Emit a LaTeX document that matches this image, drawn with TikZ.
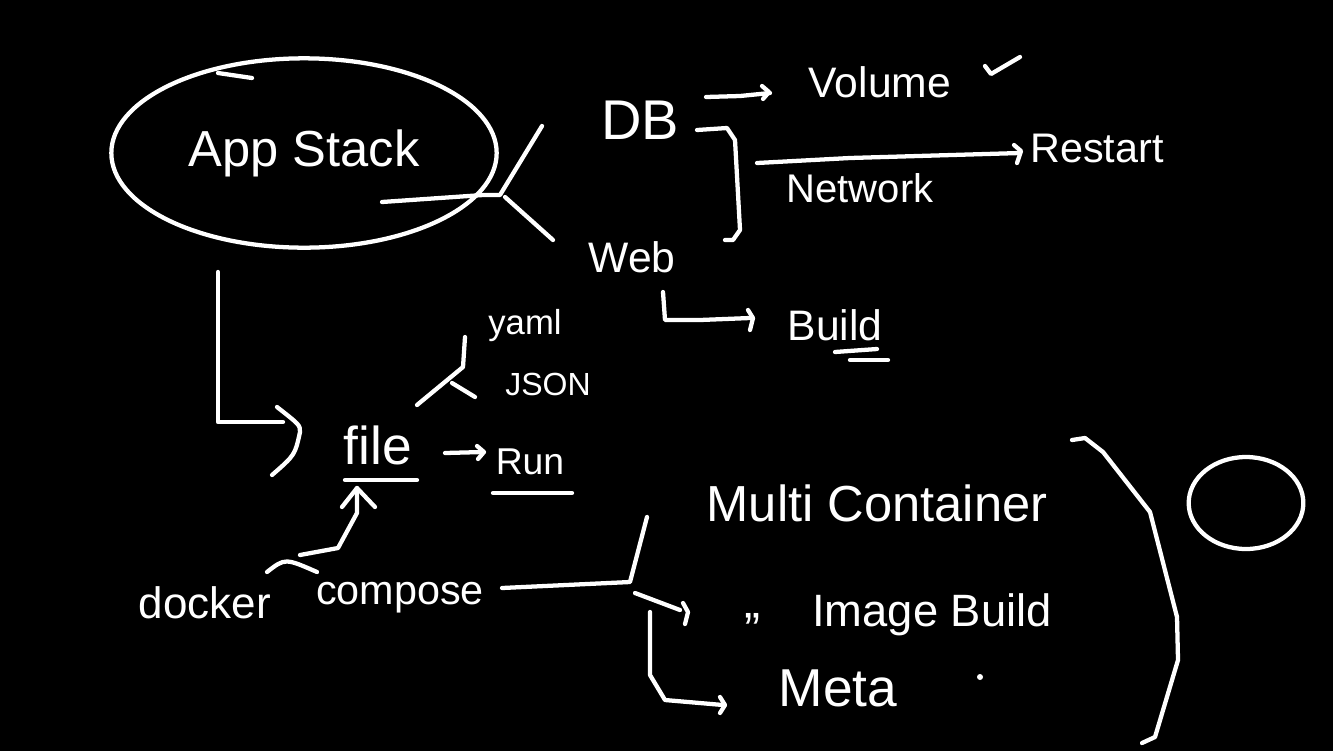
\documentclass[tikz,border=0pt]{standalone}
\usepackage{fontspec}
\setmainfont{Liberation Sans}
\usetikzlibrary{shapes.geometric}
\newcommand\hfs[1]{\fontsize{#1}{#1}\selectfont}
\begin{document}
\begin{tikzpicture}[x=0.75pt,y=-0.75pt,
  stroke/.style={draw=white,line width=3.2pt,line cap=round,line join=round},
  lbl/.style={text=white,inner sep=0pt,anchor=center}]
\fill[black] (0,0) rectangle (1333,751);
\useasboundingbox (0,0) rectangle (1333,751);

% App Stack
\node[stroke,ellipse,text=white,inner sep=0pt,minimum width=289pt,minimum height=142pt,font=\hfs{38pt}] (app) at (304,153) {App Stack};
\draw[stroke] (252,78) -- (218,73);

% fork from app stack
\coordinate (fk) at (500,195);
\draw[stroke] (382,202) -- (483,195) -- (fk) -- (542,126);
\draw[stroke] (505,197) -- (553,240);

% DB
\node[lbl,font=\hfs{42pt}] (db) at (640,120) {DB};
\node[lbl,font=\hfs{32pt}] (vol) at (880,82) {Volume};
\coordinate (volin) at (770,93);
\draw[stroke] (706,97) -- (740,96) -- (volin);
\draw[stroke] (762,86) -- (769,92) -- (763,99);
\draw[stroke] (985,66) -- (991,74) -- (1020,57);

% bracket
\draw[stroke] (697,130) -- (727,128) -- (735,140) -- (740,230) -- (733,240) -- (725,240);

% Network -> Restart
\node[lbl,font=\hfs{30pt}] (net) at (860,188) {Network};
\node[lbl,font=\hfs{31pt}] (rst) at (1097,148) {Restart};
\coordinate (rstin) at (1020,153);
\draw[stroke] (757,163) -- (850,158) -- (rstin);
\draw[stroke] (1014,145) -- (1021,151) -- (1017,163);

% Web -> Build
\node[lbl,font=\hfs{32pt}] (web) at (632,257) {Web};
\node[lbl,font=\hfs{32pt}] (bld) at (835,325) {Build};
\coordinate (bldin) at (750,318);
\draw[stroke] (663,292) -- (665,320) -- (700,320) -- (bldin);
\draw[stroke] (748,310) -- (753,318) -- (750,330);
\draw[stroke] (835,352) -- (877,349);
\draw[stroke] (850,360) -- (888,360);

% App Stack -> file
\node[lbl,font=\hfs{40pt}] (file) at (378,445) {file};
\coordinate (a1) at (218,272);
\draw[stroke] (a1) |- (283,422);
\draw[stroke] (277,407) .. controls (300,425) .. (300,432) .. controls (295,455) .. (272,475);
\draw[stroke] (345,480) -- (417,480);

% yaml / JSON
\node[lbl,font=\hfs{26pt}] (yaml) at (525,326) {yaml};
\node[lbl,font=\hfs{24pt}] (json) at (548,384) {JSON};
\draw[stroke] (417,405) -- (463,367) -- (465,337);
\draw[stroke] (452,383) -- (475,397);

% Run
\node[lbl,font=\hfs{28pt}] (run) at (530,462) {Run};
\coordinate (runin) at (483,452);
\draw[stroke] (445,453) -- (runin);
\draw[stroke] (477,446) -- (484,452) -- (478,459);
\draw[stroke] (493,493) -- (572,493);

% docker compose
\node[lbl,font=\hfs{33pt}] (dock) at (205,603) {docker};
\node[lbl,font=\hfs{31pt}] (comp) at (400,598) {compose};
\coordinate (filein) at (357,488);
\draw[stroke] (267,572) .. controls (285,558) .. (317,572);
\draw[stroke] (300,555) -- (338,548) -- (357,513) -- (filein);
\draw[stroke] (342,507) -- (filein) -- (375,507);

% compose -> branches
\coordinate (br) at (630,582);
\draw[stroke] (502,588) -- (br) -- (647,517);
\node[lbl,font=\hfs{38pt}] (multi) at (877,503) {Multi Container};
\draw[stroke] (635,593) -- (680,610);
\draw[stroke] (683,603) -- (688,612) -- (685,624);
\node[lbl,font=\hfs{36pt}] (ditto) at (752,630) {"};
\node[lbl,font=\hfs{34pt}] (img) at (932,615) {Image Build};
\draw[stroke] (650,612) -- (650,675) -- (665,700) -- (723,705);
\draw[stroke] (720,697) -- (725,705) -- (720,713);
\node[lbl,font=\hfs{40pt}] (meta) at (838,688) {Meta};
\fill[white] (980,677) circle (3);

% big paren
\draw[stroke] (1072,440) -- (1085,438) -- (1103,452) -- (1150,512) -- (1177,617) -- (1178,660) -- (1155,737) -- (1142,743);

% small circle
\node[stroke,ellipse,minimum width=86pt,minimum height=69pt] (blank) at (1246,503) {};
\end{tikzpicture}
\end{document}
